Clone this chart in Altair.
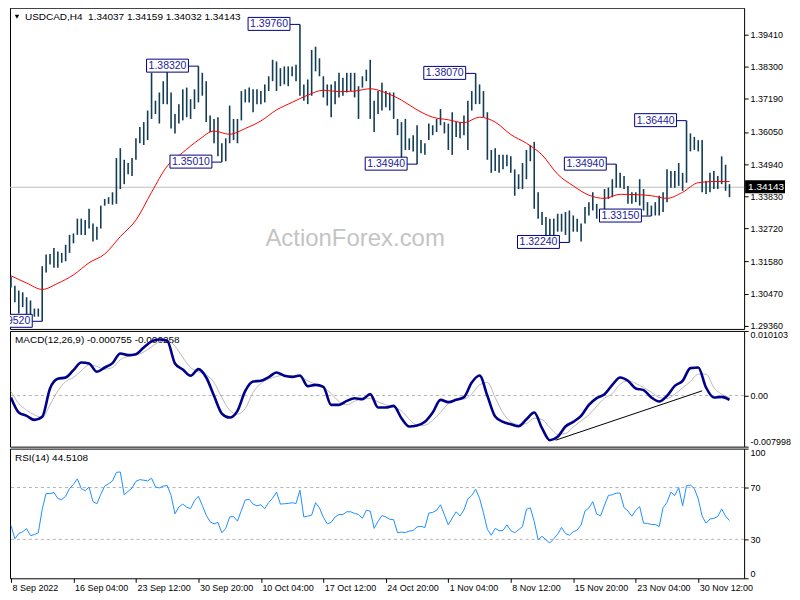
import json
import altair as alt
import pandas as pd

# ---------------- data ----------------
# USDCAD H4 bars, sampled every 2nd bar (high / low of each 2-bar window)
HIGH = [1.3105, 1.3075, 1.3058, 1.3052, 1.3035, 1.3024, 1.2996, 1.2996, 1.3142, 1.3182,
        1.3184, 1.3205, 1.3193, 1.3188, 1.3216, 1.3250, 1.3255, 1.3306, 1.3306, 1.3301,
        1.3340, 1.3289, 1.3278, 1.3351, 1.3374, 1.3380, 1.3397, 1.3515, 1.3549, 1.3509,
        1.3498, 1.3515, 1.3583, 1.3622, 1.3639, 1.3679, 1.3809, 1.3713, 1.3741, 1.3780,
        1.3820, 1.3741, 1.3667, 1.3701, 1.3752, 1.3758, 1.3718, 1.3752, 1.3832, 1.3809,
        1.3780, 1.3662, 1.3650, 1.3656, 1.3566, 1.3583, 1.3696, 1.3650, 1.3650, 1.3746,
        1.3752, 1.3758, 1.3752, 1.3752, 1.3746, 1.3769, 1.3797, 1.3854, 1.3848, 1.3825,
        1.3831, 1.3831, 1.3831, 1.3837, 1.3976, 1.3769, 1.3786, 1.3888, 1.3899, 1.3859,
        1.3797, 1.3769, 1.3769, 1.3780, 1.3809, 1.3792, 1.3809, 1.3809, 1.3809, 1.3763,
        1.3797, 1.3820, 1.3854, 1.3713, 1.3746, 1.3775, 1.3746, 1.3741, 1.3741, 1.3650,
        1.3639, 1.3650, 1.3583, 1.3594, 1.3628, 1.3577, 1.3566, 1.3634, 1.3628, 1.3650,
        1.3684, 1.3639, 1.3634, 1.3673, 1.3639, 1.3639, 1.3662, 1.3713, 1.3746, 1.3807,
        1.3769, 1.3746, 1.3673, 1.3543, 1.3549, 1.3526, 1.3526, 1.3526, 1.3521, 1.3476,
        1.3459, 1.3498, 1.3543, 1.3560, 1.3571, 1.3397, 1.3329, 1.3312, 1.3306, 1.3306,
        1.3323, 1.3323, 1.3329, 1.3334, 1.3317, 1.3306, 1.3289, 1.3346, 1.3363, 1.3397,
        1.3357, 1.3334, 1.3408, 1.3413, 1.3442, 1.3494, 1.3464, 1.3453, 1.3419, 1.3397,
        1.3397, 1.3442, 1.3408, 1.3363, 1.3351, 1.3363, 1.3385, 1.3397, 1.3476, 1.3470,
        1.3470, 1.3498, 1.3464, 1.3644, 1.3600, 1.3588, 1.3577, 1.3577, 1.3436, 1.3464,
        1.3470, 1.3453, 1.3521, 1.3492, 1.3425]
LOW = [1.3069, 1.3018, 1.2979, 1.3001, 1.2973, 1.2973, 1.2968, 1.2968, 1.2952, 1.3120,
       1.3148, 1.3137, 1.3137, 1.3154, 1.3159, 1.3188, 1.3221, 1.3250, 1.3250, 1.3250,
       1.3272, 1.3227, 1.3233, 1.3272, 1.3351, 1.3357, 1.3354, 1.3357, 1.3408, 1.3425,
       1.3459, 1.3453, 1.3509, 1.3566, 1.3560, 1.3577, 1.3650, 1.3667, 1.3634, 1.3701,
       1.3701, 1.3617, 1.3600, 1.3634, 1.3645, 1.3656, 1.3650, 1.3684, 1.3707, 1.3730,
       1.3639, 1.3605, 1.3566, 1.3521, 1.3501, 1.3504, 1.3566, 1.3577, 1.3566, 1.3645,
       1.3707, 1.3707, 1.3673, 1.3701, 1.3701, 1.3707, 1.3746, 1.3780, 1.3746, 1.3763,
       1.3769, 1.3763, 1.3797, 1.3780, 1.3730, 1.3713, 1.3701, 1.3730, 1.3814, 1.3797,
       1.3724, 1.3696, 1.3656, 1.3701, 1.3724, 1.3730, 1.3741, 1.3746, 1.3724, 1.3650,
       1.3758, 1.3780, 1.3650, 1.3605, 1.3667, 1.3679, 1.3690, 1.3679, 1.3650, 1.3594,
       1.3509, 1.3543, 1.3543, 1.3538, 1.3494, 1.3532, 1.3526, 1.3577, 1.3594, 1.3605,
       1.3628, 1.3600, 1.3543, 1.3526, 1.3588, 1.3583, 1.3594, 1.3543, 1.3679, 1.3701,
       1.3701, 1.3656, 1.3509, 1.3464, 1.3470, 1.3464, 1.3476, 1.3487, 1.3464, 1.3385,
       1.3408, 1.3408, 1.3442, 1.3504, 1.3340, 1.3306, 1.3284, 1.3244, 1.3227, 1.3244,
       1.3261, 1.3261, 1.3250, 1.3224, 1.3261, 1.3261, 1.3227, 1.3289, 1.3317, 1.3334,
       1.3306, 1.3295, 1.3318, 1.3374, 1.3380, 1.3413, 1.3413, 1.3408, 1.3357, 1.3357,
       1.3363, 1.3351, 1.3334, 1.3317, 1.3315, 1.3317, 1.3317, 1.3329, 1.3363, 1.3413,
       1.3413, 1.3419, 1.3402, 1.3430, 1.3538, 1.3543, 1.3538, 1.3397, 1.3391, 1.3397,
       1.3408, 1.3408, 1.3425, 1.3402, 1.3380]
BAR_STEP = 2

# red moving average, every 8th bar
MA = [1.3109, 1.3084, 1.3062, 1.3083, 1.3112, 1.3154, 1.3184, 1.3244, 1.3301, 1.3397,
      1.3487, 1.3534, 1.3577, 1.3608, 1.3597, 1.3617, 1.3643, 1.3681, 1.3707, 1.3732,
      1.3749, 1.3744, 1.3746, 1.3754, 1.3740, 1.3715, 1.3681, 1.3656, 1.3647, 1.3637,
      1.3656, 1.3639, 1.3596, 1.3566, 1.3526, 1.3459, 1.3419, 1.3387, 1.3376, 1.3390,
      1.3389, 1.3385, 1.3376, 1.3397, 1.3430, 1.3434, 1.3434]
MA_STEP = 8

# MACD(12,26,9), every 4th bar
MACD_MAIN = [-0.00031, -0.00266, -0.00318, -0.00381, -0.00334, 0.00110, 0.00261, 0.00282, 0.00397, 0.00517,
             0.00501, 0.00371, 0.00438, 0.00506, 0.00658, 0.00632, 0.00647, 0.00752, 0.00846, 0.00877,
             0.00856, 0.00501, 0.00407, 0.00308, 0.00412, 0.00282, -0.00005, -0.00282, -0.00345, -0.00240,
             0.00073, 0.00219, 0.00230, 0.00287, 0.00360, 0.00308, 0.00292, 0.00313, 0.00146, 0.00167,
             0.00136, -0.00146, -0.00146, -0.00084, -0.00042, -0.00057, 0.00021, -0.00188, -0.00188, -0.00162,
             -0.00355, -0.00485, -0.00470, -0.00412, -0.00266, -0.00068, -0.00104, -0.00068, -0.00026, 0.00204,
             0.00313, -0.00005, -0.00329, -0.00412, -0.00449, -0.00480, -0.00371, -0.00266, -0.00512, -0.00699,
             -0.00647, -0.00485, -0.00412, -0.00318, -0.00146, -0.00042, 0.00021, 0.00167, 0.00282, 0.00230,
             0.00110, 0.00084, -0.00031, -0.00094, -0.00005, 0.00151, 0.00230, 0.00428, 0.00438, 0.00125,
             -0.00031, -0.00021, -0.00068]
MACD_SIGNAL = [0.00063, -0.00125, -0.00230, -0.00303, -0.00345, -0.00146, 0.00073, 0.00219, 0.00282, 0.00386,
               0.00480, 0.00454, 0.00412, 0.00438, 0.00559, 0.00611, 0.00632, 0.00679, 0.00762, 0.00840,
               0.00861, 0.00773, 0.00595, 0.00438, 0.00371, 0.00324, 0.00204, -0.00031, -0.00230, -0.00292,
               -0.00204, 0.00047, 0.00188, 0.00256, 0.00298, 0.00318, 0.00303, 0.00292, 0.00230, 0.00172,
               0.00125, 0.00031, -0.00094, -0.00146, -0.00089, -0.00057, -0.00047, -0.00099, -0.00146, -0.00183,
               -0.00240, -0.00371, -0.00465, -0.00465, -0.00386, -0.00266, -0.00125, -0.00073, -0.00057, 0.00021,
               0.00167, 0.00204, -0.00031, -0.00271, -0.00412, -0.00454, -0.00438, -0.00355, -0.00376, -0.00501,
               -0.00606, -0.00595, -0.00491, -0.00397, -0.00303, -0.00167, -0.00042, 0.00031, 0.00177, 0.00230,
               0.00188, 0.00125, 0.00052, -0.00031, -0.00047, 0.00021, 0.00120, 0.00219, 0.00334, 0.00334,
               0.00125, 0.00021, -0.00031]
MACD_STEP = 4
TREND_BAR = [279, 354]
TREND_VAL = [-0.00699, 0.00073]

# RSI(14), every 2nd bar
RSI = [40.7, 30.5, 34.5, 35.9, 38.3, 32.9, 33.7, 35.1, 53.2, 65.5,
       65.2, 66.3, 61.5, 60.7, 63.3, 69.2, 72.4, 76.7, 69.2, 67.6,
       70.3, 59.1, 57.5, 64.7, 71.1, 72.9, 75.1, 81.7, 82.0, 64.4,
       67.1, 69.7, 74.8, 76.1, 75.6, 75.1, 77.2, 70.5, 69.7, 71.1,
       71.6, 63.9, 49.7, 55.1, 57.2, 54.8, 53.7, 59.9, 63.3, 56.1,
       48.7, 43.6, 42.0, 43.1, 35.1, 38.5, 47.3, 47.6, 44.1, 52.4,
       60.4, 60.9, 57.2, 55.9, 56.7, 53.7, 58.5, 61.7, 66.5, 57.2,
       57.5, 57.7, 58.3, 57.7, 67.9, 47.3, 47.9, 48.7, 58.3, 54.3,
       47.1, 42.0, 43.1, 47.3, 49.2, 49.2, 51.3, 51.3, 50.0, 49.2,
       46.3, 52.4, 51.9, 38.5, 43.9, 48.4, 47.3, 45.5, 45.2, 35.1,
       35.6, 35.3, 36.4, 36.9, 39.6, 40.1, 39.1, 50.3, 50.8, 52.4,
       56.7, 48.9, 41.2, 46.5, 51.3, 48.1, 52.7, 61.2, 63.9, 68.7,
       61.7, 50.5, 37.7, 33.2, 38.5, 36.7, 36.9, 41.2, 36.7, 35.1,
       37.5, 39.9, 53.2, 54.3, 43.9, 29.7, 32.4, 29.7, 27.3, 30.5,
       34.0, 39.3, 34.5, 33.2, 35.9, 37.2, 41.2, 51.9, 54.3, 59.1,
       49.5, 48.1, 56.4, 63.9, 64.4, 65.7, 65.7, 54.5, 51.9, 47.9,
       52.4, 55.3, 42.5, 42.3, 41.5, 41.5, 39.9, 54.5, 58.5, 66.5,
       63.9, 70.0, 55.9, 71.3, 71.9, 69.2, 61.2, 47.9, 42.5, 45.7,
       46.3, 47.6, 53.5, 47.9, 44.5]
RSI_STEP = 2

# swing high / low labels
SWING_BAR = [16, 96, 108, 148, 208, 238, 286, 310, 328, 346]
SWING_PRICE = [1.2952, 1.3832, 1.3501, 1.3976, 1.3494, 1.3807, 1.3224, 1.3494, 1.3315, 1.3644]

LAST_PRICE = 1.34143
PRICE_TICKS = [1.3941, 1.3830, 1.3719, 1.3605, 1.3494, 1.3383, 1.3272, 1.3158, 1.3047, 1.2936]
TIME_TICK_BARS = [0, 32, 64, 96, 128, 160, 192, 224, 256, 288, 320, 352]
TIME_LABELS = ["8 Sep 2022", "16 Sep 04:00", "23 Sep 12:00", "30 Sep 20:00", "10 Oct 04:00",
               "17 Oct 12:00", "24 Oct 20:00", "1 Nov 04:00", "8 Nov 12:00", "15 Nov 20:00",
               "23 Nov 04:00", "30 Nov 12:00"]

TITLE = "USDCAD,H4\u00a0 1.34037 1.34159 1.34032 1.34143"
MACD_TITLE = "MACD(12,26,9) -0.000755 -0.000258"
RSI_TITLE = "RSI(14) 44.5108"
WATERMARK = "ActionForex.com"

# ---------------- tables ----------------
bars = pd.DataFrame({"bar": [BAR_STEP * i for i in range(len(HIGH))], "high": HIGH, "low": LOW})
ma = pd.DataFrame({"bar": [MA_STEP * i for i in range(len(MA))], "ma": MA})
macd = pd.DataFrame({"bar": [MACD_STEP * i for i in range(len(MACD_MAIN))],
                     "main": MACD_MAIN, "signal": MACD_SIGNAL})
trend = pd.DataFrame({"bar": TREND_BAR, "v": TREND_VAL})
rsi = pd.DataFrame({"bar": [RSI_STEP * i for i in range(len(RSI))], "rsi": RSI})
swings = pd.DataFrame({"bar": SWING_BAR, "price": SWING_PRICE,
                       "txt": [f"{p:.5f}" for p in SWING_PRICE]})
last = pd.DataFrame({"price": [LAST_PRICE], "txt": [f"{LAST_PRICE:.5f}"]})

# ---------------- style ----------------
W = 736
H1, H2, H3 = 322, 116, 130
FONT = "Liberation Sans"
AXIS_FS = 9
BAR_COLOR = "#123d55"
NAVY = "#000080"

xscale = alt.Scale(domain=[-0.5, 375.5], nice=False, zero=False)


def X(field="bar"):
    return alt.X(f"{field}:Q", scale=xscale, axis=None)


axis_common = dict(orient="right", title=None, tickSize=4, labelPadding=2, grid=False, domain=False)

p_scale = alt.Scale(domain=[1.29257, 1.40334], nice=False, zero=False)
p_axis = alt.Axis(values=PRICE_TICKS, format=".5f", labelFlush=False, **axis_common)


def PY(field):
    return alt.Y(f"{field}:Q", scale=p_scale, axis=p_axis)


def note(text, x, y, size=10, color="black", align="left", font=FONT):
    return alt.Chart(pd.DataFrame({"t": [text]})).mark_text(
        align=align, baseline="middle", fontSize=size, color=color, font=font
    ).encode(x=alt.value(x), y=alt.value(y), text="t:N")


# ---------------- price panel ----------------
watermark = note(WATERMARK, 346, 232, size=24, color="#c4c4c4", align="center")
last_line = alt.Chart(last).mark_rule(color="#c0c0c0", strokeWidth=1).encode(y=PY("price"))
bar_rules = alt.Chart(bars).mark_rule(color=BAR_COLOR, strokeWidth=1.6).encode(
    x=X(), y=PY("low"), y2="high:Q")
ma_line = alt.Chart(ma).mark_line(color="#ff0000", strokeWidth=1, interpolate="monotone").encode(
    x=X(), y=PY("ma"))
leaders = alt.Chart(swings).mark_rule(color=NAVY, strokeWidth=1, xOffset=-10, clip=True).encode(
    x=X(), x2="bar:Q", y=PY("price"))
boxes = alt.Chart(swings).mark_rect(fill="white", stroke=NAVY, strokeWidth=1, clip=True,
                                    xOffset=-52, x2Offset=-10, yOffset=-7, y2Offset=6).encode(
    x=X(), x2="bar:Q", y=PY("price"), y2="price:Q")
box_text = alt.Chart(swings).mark_text(align="right", baseline="middle", dx=-12, fontSize=10.5,
                                       color="#1c1c96", font=FONT, clip=True).encode(
    x=X(), y=PY("price"), text="txt:N")
tri = alt.Chart(pd.DataFrame({"a": [0]})).mark_point(shape="triangle-down", filled=True, size=20,
                                                      color="black", opacity=1).encode(
    x=alt.value(7), y=alt.value(9))
title = note(TITLE, 15, 9)
tag_rect = alt.Chart(last).mark_rect(color="black", clip=False, yOffset=-7, y2Offset=6).encode(
    x=alt.value(W + 1), x2=alt.value(W + 41), y=PY("price"), y2="price:Q")
tag_text = alt.Chart(last).mark_text(align="left", baseline="middle", color="white", fontSize=10,
                                     font=FONT, clip=False).encode(
    x=alt.value(W + 4), y=PY("price"), text="txt:N")

price_panel = alt.layer(watermark, last_line, bar_rules, ma_line, leaders, boxes, box_text,
                        tri, title, tag_rect, tag_text).properties(width=W, height=H1)

# ---------------- MACD panel ----------------
m_scale = alt.Scale(domain=[-0.007998, 0.010103], nice=False, zero=False)
m_axis = alt.Axis(values=[-0.007998, 0, 0.010103], labelFlush=True,
                  labelExpr="datum.value > 0.005 ? '0.010103' : (datum.value < -0.005 ? '-0.007998' : '0.00')",
                  **axis_common)


def MY(field):
    return alt.Y(f"{field}:Q", scale=m_scale, axis=m_axis)


zero = alt.Chart(pd.DataFrame({"v": [0.0]})).mark_rule(color="#b4b4b4", strokeDash=[3, 3]).encode(y=MY("v"))
macd_title = note(MACD_TITLE, 5, 9)
sig_line = alt.Chart(macd).mark_line(color="#b9b9b9", strokeWidth=1, interpolate="monotone").encode(
    x=X(), y=MY("signal"))
main_line = alt.Chart(macd).mark_line(color="#00008b", strokeWidth=2.6, interpolate="monotone").encode(
    x=X(), y=MY("main"))
trend_line = alt.Chart(trend).mark_line(color="black", strokeWidth=1).encode(x=X(), y=MY("v"))

macd_panel = alt.layer(zero, macd_title, sig_line, main_line, trend_line).properties(width=W, height=H2)

# ---------------- RSI panel ----------------
r_scale = alt.Scale(domain=[0, 100], nice=False, zero=False)
r_axis = alt.Axis(values=[0, 30, 70, 100], labelFlush=True, **axis_common)
x_axis = alt.Axis(values=TIME_TICK_BARS, orient="bottom", title=None, grid=False, domain=False,
                  labelExpr=f"{json.dumps(TIME_LABELS)}[indexof({json.dumps(TIME_TICK_BARS)}, datum.value)]",
                  labelAlign="left", labelBaseline="top", labelFlush=False, labelOverlap=False,
                  tickSize=4, labelPadding=1, labelOffset=1)


def RY(field):
    return alt.Y(f"{field}:Q", scale=r_scale, axis=r_axis)


levels = alt.Chart(pd.DataFrame({"lvl": [30, 70]})).mark_rule(color="#b4b4b4", strokeDash=[3, 3]).encode(
    y=RY("lvl"))
rsi_title = note(RSI_TITLE, 5, 9)
rsi_line = alt.Chart(rsi).mark_line(color="#1e90ff", strokeWidth=1).encode(
    x=alt.X("bar:Q", scale=xscale, axis=x_axis), y=RY("rsi"))

rsi_panel = alt.layer(levels, rsi_title, rsi_line).properties(width=W, height=H3)

chart = alt.vconcat(price_panel, macd_panel, rsi_panel, spacing=2, bounds="flush").properties(
    padding={"left": -3, "top": -2, "right": 0, "bottom": 0}
).configure_view(stroke="black", strokeWidth=1).configure_axis(
    labelFont=FONT, labelFontSize=AXIS_FS, labelColor="black", tickColor="black"
)

chart.save("out.html", embed_options={"renderer": "svg", "actions": False})
